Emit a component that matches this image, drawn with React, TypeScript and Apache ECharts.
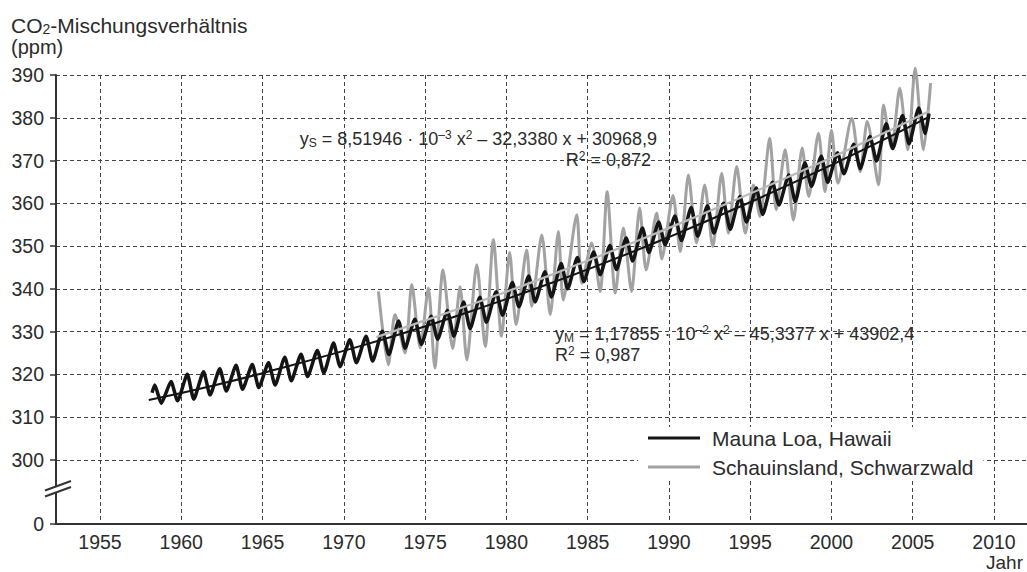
import React, { useEffect, useRef } from 'react';
import * as echarts from 'echarts';

const FONT = "'Liberation Sans', Arial, Helvetica, sans-serif";
const TEXT = '#2b2b2b';
const AXIS = '#333333';
const GRID = '#444444';

// tick labels
const yearTicks = [1955, 1960, 1965, 1970, 1975, 1980, 1985, 1990, 1995, 2000, 2005, 2010];
// 285 stands for the broken-axis "0"
const ppmTicks = [285, 300, 310, 320, 330, 340, 350, 360, 370, 380, 390];

// Mauna Loa: yearly seasonal maxima (spring) and minima (autumn), ppm
const mlYears = [1958, 1959, 1960, 1961, 1962, 1963, 1964, 1965, 1966, 1967, 1968, 1969, 1970, 1971, 1972, 1973, 1974, 1975, 1976, 1977, 1978, 1979, 1980, 1981, 1982, 1983, 1984, 1985, 1986, 1987, 1988, 1989, 1990, 1991, 1992, 1993, 1994, 1995, 1996, 1997, 1998, 1999, 2000, 2001, 2002, 2003, 2004, 2005];
const mlPeaks = [317.5, 318.3, 320.0, 320.6, 321.3, 322.1, 322.3, 322.7, 324.0, 324.7, 325.6, 327.3, 328.1, 328.9, 330.1, 332.5, 332.9, 333.6, 334.9, 336.9, 338.0, 339.3, 341.5, 343.0, 344.0, 345.9, 347.3, 348.6, 350.1, 351.9, 354.2, 355.6, 357.0, 359.0, 359.4, 360.0, 361.6, 363.6, 364.9, 366.6, 369.5, 371.0, 371.8, 373.8, 375.6, 378.6, 380.5, 382.3];
const mlTroughs = [313.2, 313.8, 314.2, 315.2, 316.1, 316.5, 316.9, 317.5, 318.5, 319.5, 320.3, 321.8, 322.7, 323.1, 324.6, 326.1, 327.0, 328.2, 328.9, 330.7, 332.2, 333.8, 335.8, 336.9, 338.1, 340.0, 341.7, 343.3, 344.5, 346.5, 348.5, 350.3, 351.3, 352.3, 353.0, 353.9, 355.6, 357.4, 359.6, 360.4, 364.0, 364.9, 366.9, 368.1, 369.9, 372.8, 373.9, 376.3];
const mlPeakPhase = 0.37; // May
const mlTroughPhase = 0.77; // October
const mlFirst: [number, number] = [1958.2, 315.7];
const mlLast: [number, number] = [2006.0, 381.0];

// Schauinsland: extremes (time, ppm)
const schTimes = [1972.13, 1972.74, 1973.15, 1973.77, 1974.18, 1974.7, 1975.2, 1975.6, 1976.1, 1976.7, 1977.15, 1977.57, 1978.18, 1978.7, 1979.2, 1979.7, 1980.2, 1980.6, 1981.25, 1981.56, 1982.18, 1982.7, 1983.2, 1983.5, 1984.33, 1984.64, 1985.25, 1985.77, 1986.2, 1986.7, 1987.2, 1987.7, 1988.2, 1988.6, 1989.25, 1989.56, 1990.25, 1990.7, 1991.2, 1991.7, 1992.2, 1992.7, 1993.25, 1993.66, 1994.17, 1994.7, 1995.2, 1995.6, 1996.2, 1996.6, 1997.15, 1997.66, 1998.2, 1998.6, 1999.2, 1999.6, 2000.0, 2000.4, 2001.25, 2001.77, 2002.2, 2002.9, 2003.2, 2003.7, 2004.2, 2004.7, 2005.15, 2005.66, 2006.1];
const schPpm = [339.4, 322.2, 334.0, 325.0, 341.0, 326.2, 340.2, 321.5, 344.4, 326.0, 340.5, 323.4, 345.6, 326.5, 351.5, 328.9, 348.5, 331.6, 349.1, 335.9, 352.6, 334.0, 353.4, 337.4, 357.3, 341.3, 350.7, 339.4, 362.7, 339.0, 354.2, 339.4, 358.9, 344.4, 357.7, 347.0, 361.8, 348.7, 366.6, 350.7, 364.3, 349.9, 367.0, 353.0, 368.6, 353.0, 364.3, 356.9, 375.2, 358.5, 372.5, 356.1, 372.9, 361.6, 376.4, 362.7, 377.1, 364.7, 379.9, 367.4, 379.1, 364.3, 383.0, 372.9, 386.9, 372.5, 391.6, 372.5, 388.1];

// quadratic fit curves
const mlFitYears = [1958, 1962, 1966, 1970, 1974, 1978, 1982, 1986, 1990, 1994, 1998, 2002, 2006];
const mlFitPpm = [314.0, 317.4, 321.3, 325.5, 330.0, 335.0, 340.3, 346.0, 352.1, 358.6, 365.4, 372.6, 380.2];
const schFitYears = [1972, 1976, 1980, 1984, 1988, 1992, 1996, 2000, 2004, 2006];
const schFitPpm = [328.7, 333.9, 339.3, 345.1, 351.1, 357.4, 363.9, 370.7, 377.8, 381.5];

const ML_NAME = 'Mauna Loa, Hawaii';
const SCH_NAME = 'Schauinsland, Schwarzwald';

function buildMauna(): [number, number][] {
  const pts: [number, number][] = [mlFirst];
  mlYears.forEach((y, i) => {
    pts.push([y + mlPeakPhase, mlPeaks[i]]);
    pts.push([y + mlTroughPhase, mlTroughs[i]]);
  });
  pts.push(mlLast);
  return pts;
}

const zip = (a: number[], b: number[]) => a.map((v, i) => [v, b[i]]);

const eqRich = {
  b: { fontSize: 18, lineHeight: 20, fontFamily: FONT, fill: TEXT },
  sub: { fontSize: 12, lineHeight: 10, fontFamily: FONT, fill: TEXT, verticalAlign: 'bottom' },
  sup: { fontSize: 12, lineHeight: 8, fontFamily: FONT, fill: TEXT, verticalAlign: 'top' },
};

const titleRich = {
  b: { fontSize: 21, lineHeight: 21, fontFamily: FONT, fill: TEXT },
  sub: { fontSize: 14, lineHeight: 10, fontFamily: FONT, fill: TEXT, verticalAlign: 'bottom' },
};

export default function App() {
  const ref = useRef<HTMLDivElement>(null);
  useEffect(() => {
    if (!ref.current) return;
    const chart = echarts.init(ref.current, undefined, { renderer: 'svg' });
    const option: any = {
      animation: false,
      backgroundColor: '#ffffff',
      textStyle: { fontFamily: FONT, color: TEXT },
      grid: { left: 56, right: 0, top: 75, bottom: 48, containLabel: false, outerBoundsMode: 'none' },
      xAxis: {
        type: 'value',
        min: 1952.293,
        max: 2012.03,
        axisLine: { show: true, onZero: false, lineStyle: { color: AXIS, width: 2 } },
        axisTick: { show: false, customValues: yearTicks },
        axisLabel: {
          customValues: yearTicks,
          fontSize: 19.5,
          lineHeight: 20,
          color: TEXT,
          margin: 8,
          fontFamily: FONT,
          formatter: (v: number) => String(v),
        },
        splitLine: { show: true, lineStyle: { color: GRID, type: [4, 3], width: 1 } },
      },
      yAxis: {
        type: 'value',
        min: 285,
        max: 390,
        axisLine: { show: true, lineStyle: { color: AXIS, width: 2 } },
        axisTick: { show: true, length: 6, customValues: ppmTicks, lineStyle: { color: AXIS, width: 1.5 } },
        axisLabel: {
          customValues: ppmTicks,
          fontSize: 19.5,
          color: TEXT,
          margin: 12,
          fontFamily: FONT,
          formatter: (v: number) => (v === 285 ? '0' : String(v)),
        },
        splitLine: { show: true, lineStyle: { color: GRID, type: [4, 3], width: 1 } },
      },
      legend: {
        data: [
          { name: ML_NAME, icon: 'rect' },
          { name: SCH_NAME, icon: 'rect' },
        ],
        orient: 'vertical',
        left: 638,
        top: 427,
        itemWidth: 52,
        itemHeight: 3,
        itemGap: 7,
        padding: [0, 10, 2, 10],
        backgroundColor: '#ffffff',
        selectedMode: false,
        textStyle: { fontSize: 21, color: TEXT, lineHeight: 22, fontFamily: FONT, padding: [0, 0, 0, 7] },
      },
      series: [
        {
          name: SCH_NAME,
          type: 'line',
          data: zip(schTimes, schPpm),
          showSymbol: false,
          symbol: 'none',
          smooth: 0.25,
          clip: false,
          itemStyle: { color: '#a2a2a2' },
          lineStyle: { color: '#a2a2a2', width: 3 },
          z: 2,
        },
        {
          name: ML_NAME,
          type: 'line',
          data: buildMauna(),
          showSymbol: false,
          symbol: 'none',
          smooth: 0.2,
          clip: false,
          itemStyle: { color: '#141414' },
          lineStyle: { color: '#141414', width: 3.5 },
          z: 3,
        },
        {
          name: 'Schauinsland fit',
          type: 'line',
          data: zip(schFitYears, schFitPpm),
          showSymbol: false,
          symbol: 'none',
          smooth: true,
          lineStyle: { color: '#b9b9b9', width: 2.2 },
          z: 4,
        },
        {
          name: 'Mauna Loa fit',
          type: 'line',
          data: zip(mlFitYears, mlFitPpm),
          showSymbol: false,
          symbol: 'none',
          smooth: true,
          lineStyle: { color: '#141414', width: 2 },
          z: 5,
        },
      ],
      graphic: [
        {
          type: 'text',
          z: 100,
          style: { text: '{b|CO}{sub|2}{b|-Mischungsverhältnis}', rich: titleRich, x: 11, y: 25, align: 'left', verticalAlign: 'middle' },
        },
        {
          type: 'text',
          z: 100,
          style: { text: '(ppm)', x: 11, y: 47, align: 'left', verticalAlign: 'middle', font: `20px ${FONT}`, fill: TEXT },
        },
        {
          type: 'text',
          z: 100,
          style: { text: 'Jahr', x: 1023, y: 562, align: 'right', verticalAlign: 'middle', font: `19px ${FONT}`, fill: TEXT },
        },
        {
          type: 'text',
          z: 100,
          style: {
            text: '{b|y}{sub|S}{b| = 8,51946 · 10}{sup|–3}{b| x}{sup|2}{b| – 32,3380 x + 30968,9}',
            rich: eqRich,
            x: 657,
            y: 139,
            align: 'right',
            verticalAlign: 'middle',
          },
        },
        {
          type: 'text',
          z: 100,
          style: { text: '{b|R}{sup|2}{b| = 0,872}', rich: eqRich, x: 651, y: 160, align: 'right', verticalAlign: 'middle' },
        },
        {
          type: 'text',
          z: 100,
          style: {
            text: '{b|y}{sub|M}{b| = 1,17855 · 10}{sup|–2}{b| x}{sup|2}{b| – 45,3377 x + 43902,4}',
            rich: eqRich,
            x: 555,
            y: 334,
            align: 'left',
            verticalAlign: 'middle',
          },
        },
        {
          type: 'text',
          z: 100,
          style: { text: '{b|R}{sup|2}{b| = 0,987}', rich: eqRich, x: 555, y: 355, align: 'left', verticalAlign: 'middle' },
        },
        // axis break
        {
          type: 'polygon',
          z: 100,
          shape: { points: [[46, 490], [70, 481], [70, 487], [46, 496]] },
          style: { fill: '#ffffff' },
        },
        {
          type: 'line',
          z: 101,
          shape: { x1: 45, y1: 490.5, x2: 71, y2: 481 },
          style: { stroke: AXIS, lineWidth: 2 },
        },
        {
          type: 'line',
          z: 101,
          shape: { x1: 45, y1: 496.5, x2: 71, y2: 487 },
          style: { stroke: AXIS, lineWidth: 2 },
        },
      ],
    };
    chart.setOption(option);
    return () => chart.dispose();
  }, []);
  return <div ref={ref} style={{ position: 'fixed', left: 0, top: 0, width: 1027, height: 572 }} />;
}
